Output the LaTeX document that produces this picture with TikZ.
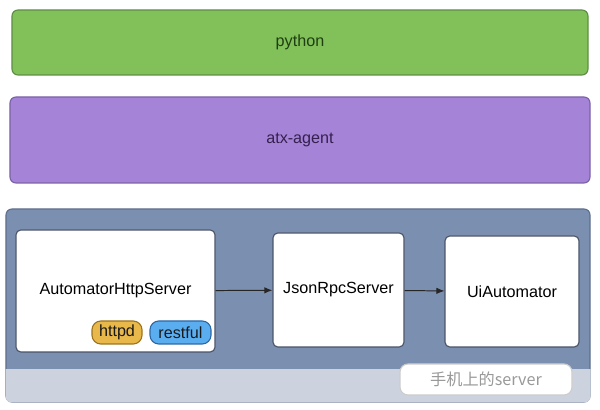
\documentclass[tikz,border=0pt]{standalone}
\usepackage{fontspec}
\setmainfont{Liberation Sans}
\newfontfamily\cjkfont{Noto Sans CJK SC}
\usetikzlibrary{arrows.meta}

\definecolor{pygreen}{HTML}{82C05A}
\definecolor{pygreenline}{HTML}{5E8E44}
\definecolor{pytext}{HTML}{1E3F12}
\definecolor{agentpurple}{HTML}{A583D6}
\definecolor{agentline}{HTML}{7A62A6}
\definecolor{agenttext}{HTML}{35204F}
\definecolor{phoneblue}{HTML}{7B8FB0}
\definecolor{phoneline}{HTML}{5F6F8C}
\definecolor{bandgray}{HTML}{CDD3DE}
\definecolor{boxline}{HTML}{4A5468}
\definecolor{httpdfill}{HTML}{E8B84A}
\definecolor{httpdline}{HTML}{9C7420}
\definecolor{restfill}{HTML}{5AAEF0}
\definecolor{restline}{HTML}{2C68A6}

\tikzset{
	layer/.style = {rectangle, rounded corners=1.5mm, line width=0.8pt, inner sep=0pt},
	server/.style = {rectangle, draw=boxline, fill=white, rounded corners=1.2mm, line width=0.8pt, inner sep=0pt},
	pill/.style = {rectangle, rounded corners=2.2mm, line width=0.8pt, inner sep=0pt, minimum height=5.75mm, text=black!90}
}

\begin{document}
\begin{tikzpicture}[x=0.25mm, y=-0.25mm]
				\fontsize{11.5}{13}\selectfont
				\useasboundingbox (0, 0) rectangle (600, 410);
				
				% layers
				\node[layer, draw=pygreenline, fill=pygreen, text=pytext, minimum width=144mm, minimum height=16.25mm] (python) at (300, 42.5) {python};
				\node[layer, draw=agentline, fill=agentpurple, text=agenttext, minimum width=145mm, minimum height=21.5mm] (agent) at (300, 140) {atx-agent};
				\node[layer, draw=phoneline, fill=phoneblue, minimum width=146mm, minimum height=48.25mm] (phone) at (298, 305.5) {};
				
				% faded strip
				\begin{scope}
					\clip[rounded corners=1.5mm] (5.5, 208.5) rectangle (590.5, 402.5);
					\fill[bandgray] (0, 369) rectangle (600, 410);
				\end{scope}
				
				% servers
				\node[server, minimum width=49.75mm, minimum height=30.5mm] (http) at (115.5, 291) {AutomatorHttpServer};
				\node[server, minimum width=32.75mm, minimum height=28.5mm] (jsonrpc) at (338.5, 290) {JsonRpcServer};
				\node[server, minimum width=33.5mm, minimum height=27.75mm] (uiauto) at (512, 291.5) {UiAutomator};
				
				% tags
				\node[pill, draw=httpdline, fill=httpdfill, minimum width=12.5mm] (httpd) at (117, 332.5) {httpd};
				\node[pill, draw=restline, fill=restfill, minimum width=15.25mm] (restful) at (180.5, 332.5) {restful};
				
				% label
				\node[server, draw=black!20, rounded corners=2mm, minimum width=43mm, minimum height=7.75mm, text=black!40] (onphone) at (486, 379.5) {\cjkfont 手机上的server};
				
				% arrows
				\draw[-{Latex[length=2mm, width=1.6mm]}, line width=0.7pt, draw=black!85] (http) -- (jsonrpc);
				\draw[-{Latex[length=2mm, width=1.6mm]}, line width=0.7pt, draw=black!85] (jsonrpc) -- (uiauto);
				
			\end{tikzpicture}
\end{document}
